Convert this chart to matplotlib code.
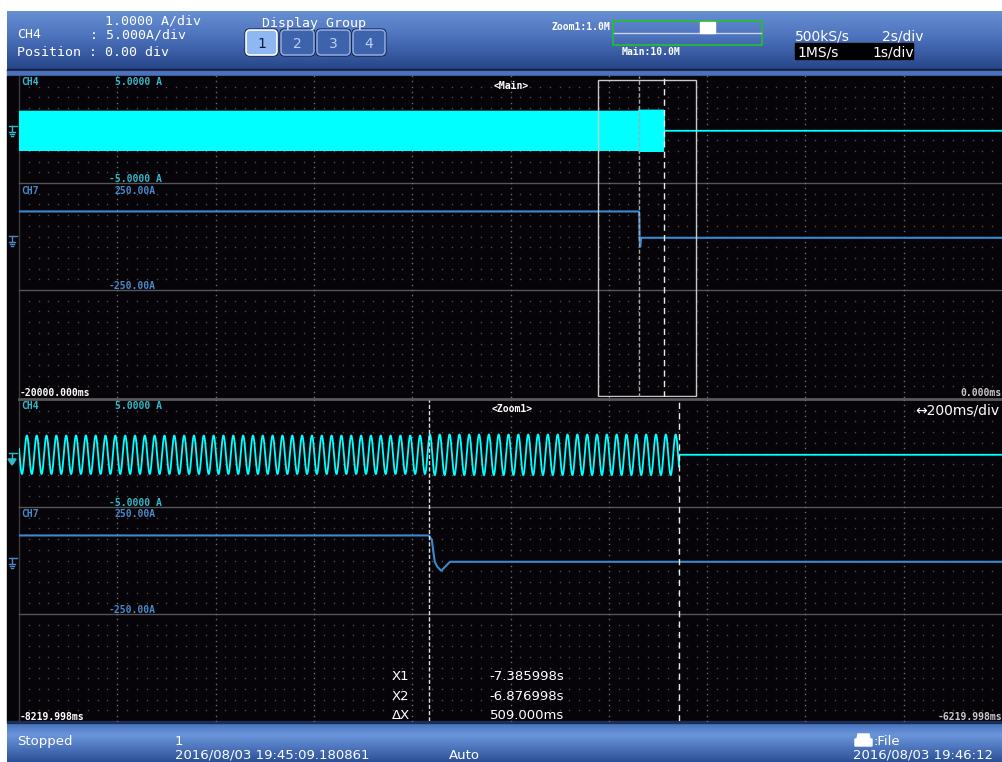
import numpy as np
import matplotlib.pyplot as plt
from matplotlib.patches import Rectangle, FancyBboxPatch, Polygon

W, H = 1002, 762

# time settings (ms)
main_range_ms = (-20000.0, 0.0)
zoom_range_ms = (-8219.998, -6219.998)
x1_ms = -7385.998
x2_ms = -6876.998

ch4_range_a = (-5.0, 5.0)
ch7_range_a = (-250.0, 250.0)

# CH4: 50 Hz current that stops at X2
ch4_freq_hz = 50.0
ch4_amp_a = 1.8
ch4_amp_late_a = 1.9      # slightly larger between X1 and X2
ch4_offset_a = -0.12
ch4_peak_ms = -8204.0

# CH7: step down at X1 with a small undershoot
ch7_times_ms = [-20000.0, -7386.0, -7380.0, -7377.0, -7374.0, -7369.0,
                -7361.0, -7353.0, -7343.0, 0.0]
ch7_values_a = [117.0, 117.0, 96.0, 41.0, -6.0, -29.0, -48.0, -29.0, -6.0, -6.0]

# build CH4 trace
t4 = np.arange(main_range_ms[0], x2_ms, 0.5)
amp = np.where(t4 < x1_ms, ch4_amp_a, ch4_amp_late_a)
v4 = ch4_offset_a + amp * np.cos(2 * np.pi * ch4_freq_hz * (t4 - ch4_peak_ms) / 1000.0)
t4 = np.append(t4, [x2_ms, main_range_ms[1]])
v4 = np.append(v4, [ch4_offset_a, ch4_offset_a])

CYAN = '#00ffff'
CH7_BLUE = '#3a8ad0'
CH4_TXT = '#33b8c8'
CH7_TXT = '#4a88c8'
MONO = 'DejaVu Sans Mono'
SANS = 'DejaVu Sans'

fig = plt.figure(figsize=(W / 100, H / 100), dpi=100)
fig.patch.set_facecolor('white')


def px_axes(x0, y0, x1, y1):
    ax = fig.add_axes([x0 / W, 1 - y1 / H, (x1 - x0) / W, (y1 - y0) / H])
    ax.axis('off')
    return ax


def gradient(ax, x0, x1, y0, y1, stops):
    n = 80
    t = np.linspace(0, 1, n)
    pos = [s[0] for s in stops]
    cols = np.array([s[1] for s in stops]) / 255.0
    img = np.stack([np.interp(t, pos, cols[:, i]) for i in range(3)], axis=1)
    ax.imshow(img[:, None, :], extent=(x0, x1, y1, y0), aspect='auto',
              interpolation='bilinear', zorder=1)


# background / frame in pixel coordinates
bg = fig.add_axes([0, 0, 1, 1])
bg.axis('off')
gradient(bg, 7, W, 11, 69, [(0, (104, 144, 212)), (0.5, (72, 110, 184)), (1, (40, 70, 138))])
bg.add_patch(Rectangle((7, 69), W - 7, 1.5, color='#14203f', zorder=2))
bg.add_patch(Rectangle((7, 70.5), W - 7, 5.5, color='#4c72bc', zorder=2))
bg.add_patch(Rectangle((7, 76), W - 7, 645, color='#060408', zorder=2))
bg.add_patch(Rectangle((7, 721), W - 7, 2, color='#1c2e55', zorder=2))
gradient(bg, 7, W, 723, H, [(0, (72, 112, 188)), (0.3, (106, 150, 220)), (1, (44, 80, 150))])
bg.set_xlim(0, W)
bg.set_ylim(H, 0)

# separators
bg.plot([19, 19], [76, 721], color='#3c3c3c', lw=1, zorder=3)
for yy in [183, 290, 507, 614]:
    bg.plot([19, W], [yy, yy], color='#555555', lw=1, zorder=3)
bg.plot([19, W], [398.5, 398.5], color='#5a5a5a', lw=2, zorder=3)

# header widgets
btn_x = [(246, 277), (281, 314), (317, 350), (353, 385)]
for i, (a, b) in enumerate(btn_x):
    bg.add_patch(FancyBboxPatch((a - 1.5, 28.5), b - a + 3, 28,
                                boxstyle='round,pad=0,rounding_size=5',
                                fc='#0c1633', ec='none', zorder=3))
    if i == 0:
        fc, ec, tc = '#8fb8f2', 'white', '#0a1a40'
    else:
        fc, ec, tc = '#3e63ad', '#8aa8de', '#b8d0f5'
    bg.add_patch(FancyBboxPatch((a, 30), b - a, 25,
                                boxstyle='round,pad=0,rounding_size=4',
                                fc=fc, ec=ec, lw=1.2, zorder=4))
    bg.text((a + b) / 2, 48, str(i + 1), color=tc, fontsize=10, family=SANS,
            ha='center', va='baseline', zorder=5)

bg.add_patch(Rectangle((613, 21), 149, 24, fill=False, ec='#22c22a', lw=1.2, zorder=4))
bg.plot([614, 761], [33, 33], color='#c8d4f0', lw=1, zorder=4)
bg.add_patch(Rectangle((700, 22), 15, 11, color='white', zorder=5))
bg.add_patch(Rectangle((795, 43), 118, 15.5, color='black', zorder=4))

# printer icon
bg.add_patch(Polygon([(858, 734), (869, 734), (870, 739), (872, 739), (872, 746),
                      (855, 746), (855, 739), (857, 739)], closed=True,
                     color='white', zorder=5))


def ground(x, y, color, arrow=False):
    bg.plot([9, 17], [y - 5, y - 5], color=color, lw=1, zorder=5)
    bg.plot([12, 12], [y - 5, y + 1], color=color, lw=1, zorder=5)
    bg.plot([9, 15], [y + 1, y + 1], color=color, lw=1, zorder=5)
    bg.plot([10, 14], [y + 3, y + 3], color=color, lw=1, zorder=5)
    bg.plot([11, 13], [y + 5, y + 5], color=color, lw=1, zorder=5)
    if arrow:
        bg.add_patch(Polygon([(8, y + 1), (16, y + 1), (12, y + 7)], color=color, zorder=5))


ground(12, 131, CH4_TXT)
ground(12, 241, CH7_TXT)
ground(12, 458, CH4_TXT, arrow=True)
ground(12, 563, CH7_TXT)


def dots(ax):
    gx = [i / 100 for i in range(1, 100) if i % 10]
    gy = [k / 10 for k in range(1, 10)]
    X, Y = np.meshgrid(gx, gy)
    ax.plot(X.ravel(), Y.ravel(), ls='none', marker='s', ms=1.0, mew=0,
            color='#4e4e4e', transform=ax.transAxes, zorder=1)
    vx = [j / 10 for j in range(1, 10)]
    vy = np.arange(0, 21) / 20
    X, Y = np.meshgrid(vx, vy)
    ax.plot(X.ravel(), Y.ravel(), ls='none', marker='s', ms=1.0, mew=0,
            color='#6c6c6c', transform=ax.transAxes, zorder=1)


# data panels
panels = {}
for name, (top, bot), xr in [('main', (76, 397), main_range_ms),
                             ('zoom', (400, 721), zoom_range_ms)]:
    h = (bot - top) / 3
    axs = []
    for k in range(3):
        ax = px_axes(19, top + k * h, W, top + (k + 1) * h)
        ax.set_xlim(*xr)
        dots(ax)
        axs.append(ax)
    axs[0].set_ylim(*ch4_range_a)
    axs[1].set_ylim(*ch7_range_a)
    axs[0].plot(t4, v4, color=CYAN, lw=1.3, zorder=3)
    axs[1].plot(ch7_times_ms, ch7_values_a, color=CH7_BLUE, lw=1.5, zorder=3)
    panels[name] = axs

# cursors and zoom box
ax_mo = px_axes(19, 76, W, 397)
ax_mo.set_xlim(*main_range_ms)
ax_mo.set_ylim(0, 1)
ax_mo.add_patch(Rectangle((zoom_range_ms[0], 0.003), zoom_range_ms[1] - zoom_range_ms[0],
                          0.985, fill=False, ec='#c8c8c8', lw=1, zorder=5))
ax_mo.axvline(x1_ms, color='#a8a8a8', lw=1, ls=(0, (3, 1.5)), zorder=6)
ax_mo.axvline(x2_ms, color='#e8e8e8', lw=1, ls=(0, (4.5, 3)), zorder=6)

ax_zo = px_axes(19, 400, W, 721)
ax_zo.set_xlim(*zoom_range_ms)
ax_zo.set_ylim(0, 1)
ax_zo.axvline(x1_ms, color='#e0e0e0', lw=1, ls=(0, (3, 1.5)), zorder=6)
ax_zo.axvline(x2_ms, color='#e8e8e8', lw=1, ls=(0, (4.5, 3)), zorder=6)

# text layer
tx = fig.add_axes([0, 0, 1, 1])
tx.axis('off')
tx.set_xlim(0, W)
tx.set_ylim(H, 0)


def put(x, y, s, size=7, color='white', family=MONO, weight='bold', ha='left'):
    tx.text(x, y, s, fontsize=size, color=color, family=family, fontweight=weight,
            ha=ha, va='baseline')


# header text
put(105, 25, '1.0000 A/div', 9.5, weight='normal')
put(17, 38.5, 'CH4', 9.5, weight='normal')
put(90, 38.5, ': 5.000A/div', 9.5, weight='normal')
put(17, 55.5, 'Position : 0.00 div', 9.5, weight='normal')
put(262, 27, 'Display Group', 9.5, weight='normal')
put(552, 30.5, 'Zoom1:1.0M', 7)
put(622, 55, 'Main:10.0M', 7)
put(795, 40, '500kS/s', 10, family=SANS, weight='normal')
put(882, 40, '2s/div', 10, family=SANS, weight='normal')
put(797, 56, '1MS/s', 10, family=SANS, weight='normal')
put(872, 56, '1s/div', 10, family=SANS, weight='normal')

# panel labels
put(21, 85, 'CH4', 7, CH4_TXT)
put(115, 85, '5.0000 A', 7, CH4_TXT)
put(109, 182, '-5.0000 A', 7, CH4_TXT)
put(21, 194, 'CH7', 7, CH7_TXT)
put(115, 194, '250.00A', 7, CH7_TXT)
put(109, 289, '-250.00A', 7, CH7_TXT)
put(494, 89, '<Main>', 7)
put(20, 396.5, '-20000.000ms', 7)
put(W, 396.5, '0.000ms', 7, '#c8c8c8', ha='right')

put(21, 409, 'CH4', 7, CH4_TXT)
put(115, 409, '5.0000 A', 7, CH4_TXT)
put(109, 506, '-5.0000 A', 7, CH4_TXT)
put(21, 517, 'CH7', 7, CH7_TXT)
put(115, 517, '250.00A', 7, CH7_TXT)
put(109, 613, '-250.00A', 7, CH7_TXT)
put(492, 412, '<Zoom1>', 7)
put(915, 414, '\u2194200ms/div', 10, family=SANS, weight='normal')
put(20, 720, '-8219.998ms', 7)
put(W, 720, '-6219.998ms', 7, '#c8c8c8', ha='right')

# cursor readout
put(392, 680, 'X1', 9.5, family=SANS, weight='normal')
put(392, 700, 'X2', 9.5, family=SANS, weight='normal')
put(392, 719, '\u0394X', 9.5, family=SANS, weight='normal')
put(564, 680, '-7.385998s', 9.5, family=SANS, weight='normal', ha='right')
put(564, 700, '-6.876998s', 9.5, family=SANS, weight='normal', ha='right')
put(564, 719, '509.000ms', 9.5, family=SANS, weight='normal', ha='right')

# status bar
put(17, 745, 'Stopped', 9.5, family=SANS, weight='normal')
put(175, 745, '1', 9.5, family=SANS, weight='normal')
put(175, 759, '2016/08/03 19:45:09.180861', 9.5, family=SANS, weight='normal')
put(449, 759, 'Auto', 9.5, family=SANS, weight='normal')
put(874, 745, ':File', 9.5, family=SANS, weight='normal')
put(853, 759, '2016/08/03 19:46:12', 9.5, family=SANS, weight='normal')

fig.savefig('out.png', dpi=100)
